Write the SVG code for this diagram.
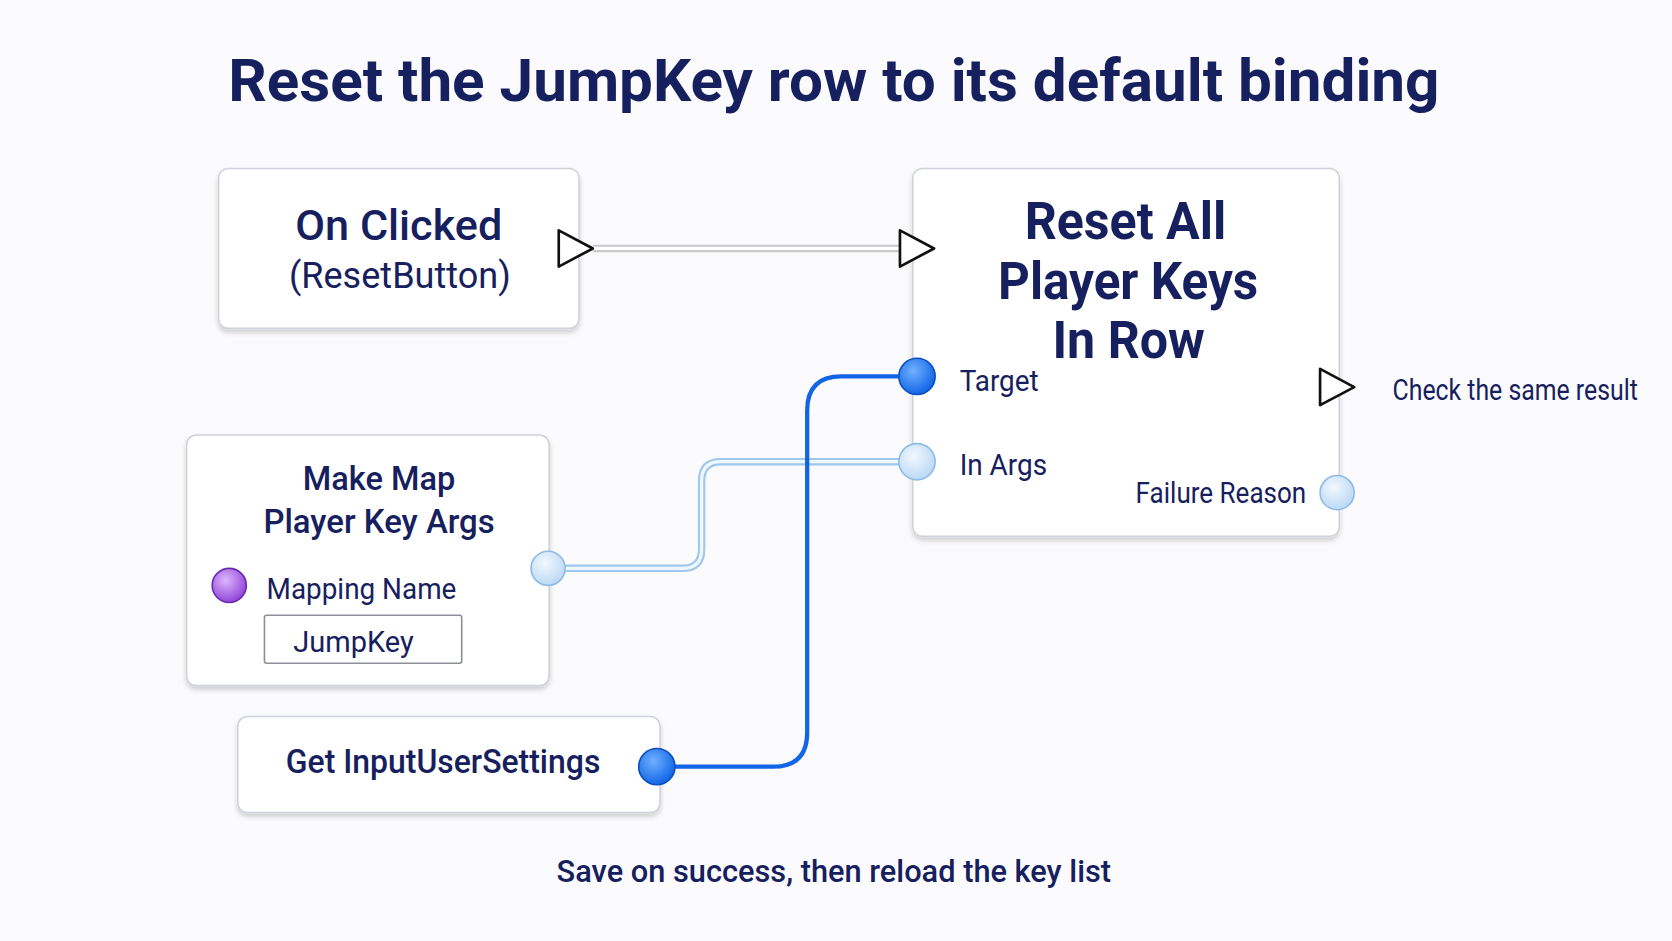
<svg xmlns="http://www.w3.org/2000/svg" width="1672" height="941" viewBox="0 0 1672 941">
<defs>
<filter id="sh" x="-10%" y="-10%" width="120%" height="130%"><feDropShadow dx="0" dy="3" stdDeviation="2.5" flood-color="#000" flood-opacity="0.18"/></filter>
<radialGradient id="gBlue" cx="40%" cy="35%" r="65%"><stop offset="0" stop-color="#6fb0ff"/><stop offset="1" stop-color="#1266e6"/></radialGradient>
<radialGradient id="gLight" cx="40%" cy="35%" r="65%"><stop offset="0" stop-color="#f2f8ff"/><stop offset="1" stop-color="#bcd9f5"/></radialGradient>
<radialGradient id="gPurple" cx="40%" cy="35%" r="65%"><stop offset="0" stop-color="#dcb6ff"/><stop offset="1" stop-color="#9246d8"/></radialGradient>
</defs>
<style>
text{font-family:Roboto,"Liberation Sans",sans-serif;fill:#17205e}
.node{fill:#fff;stroke:#cfd2d8;stroke-width:1.5;filter:url(#sh)}
.exec{fill:#fff;stroke:#111;stroke-width:2.5;stroke-linejoin:round}
.pb{fill:url(#gBlue);stroke:#0b4fc0;stroke-width:1.5}
.pl{fill:url(#gLight);stroke:#8dbbe6;stroke-width:1.5}
.t28{font-size:28px}
</style>
<rect width="1672" height="941" fill="#fbfbfd"/>
<g transform="scale(1.0663)">
<text x="214" y="95" font-size="56" font-weight="700" textLength="1136" lengthAdjust="spacingAndGlyphs">Reset the JumpKey row to its default binding</text>
<g id="connectors" fill="none">
<path d="M556 233H843" stroke="#c9c9cc" stroke-width="7"/>
<path d="M556 233H843" stroke="#fff" stroke-width="3"/>
<path d="M530 533H640Q658 533 658 515V451Q658 433 676 433H843" stroke="#9ec8ee" stroke-width="7"/>
<path d="M530 533H640Q658 533 658 515V451Q658 433 676 433H843" stroke="#eef6ff" stroke-width="3"/>
<path d="M630 719H725Q757 719 757 687V385Q757 353 789 353H843" stroke="#1266e6" stroke-width="4"/>
</g>
<g id="onclicked">
<rect class="node" x="205" y="158" width="338" height="150" rx="9"/>
<text x="277" y="225" font-size="40" font-weight="500" textLength="194" lengthAdjust="spacingAndGlyphs">On Clicked</text>
<text x="271" y="270" font-size="34" textLength="208" lengthAdjust="spacingAndGlyphs">(ResetButton)</text>
<path class="exec" d="M524 216L556 233L524 250Z"/>
</g>
<g id="reset">
<rect class="node" x="856" y="158" width="400" height="345" rx="9"/>
<text x="961" y="224" font-size="48" font-weight="700" textLength="189" lengthAdjust="spacingAndGlyphs">Reset All</text>
<text x="936" y="280" font-size="48" font-weight="700" textLength="244" lengthAdjust="spacingAndGlyphs">Player Keys</text>
<text x="987" y="336" font-size="48" font-weight="700" textLength="143" lengthAdjust="spacingAndGlyphs">In Row</text>
<path class="exec" d="M844 216L876 233L844 250Z"/>
<circle class="pb" cx="860" cy="353" r="17"/>
<text class="t28" x="900" y="367" textLength="74" lengthAdjust="spacingAndGlyphs">Target</text>
<circle class="pl" cx="860" cy="433" r="17"/>
<text class="t28" x="900" y="445" textLength="82" lengthAdjust="spacingAndGlyphs">In Args</text>
<text class="t28" x="1065" y="472" textLength="160" lengthAdjust="spacingAndGlyphs">Failure Reason</text>
<circle class="pl" cx="1254" cy="462" r="16"/>
<path class="exec" d="M1238 346L1270 363L1238 380Z"/>
</g>
<text id="check" class="t28" x="1306" y="375" textLength="230" lengthAdjust="spacingAndGlyphs">Check the same result</text>
<g id="makemap">
<rect class="node" x="175" y="408" width="340" height="235" rx="9"/>
<text x="284" y="460" font-size="32" font-weight="500" textLength="143" lengthAdjust="spacingAndGlyphs">Make Map</text>
<text x="247" y="500" font-size="32" font-weight="500" textLength="217" lengthAdjust="spacingAndGlyphs">Player Key Args</text>
<circle cx="215" cy="549" r="16" fill="url(#gPurple)" stroke="#6b2cb0" stroke-width="1.5"/>
<text class="t28" x="250" y="562" textLength="178" lengthAdjust="spacingAndGlyphs">Mapping Name</text>
<rect x="248" y="577" width="185" height="45" fill="#fff" stroke="#8c8f96" stroke-width="1.5" rx="2"/>
<text class="t28" x="275" y="611" textLength="113" lengthAdjust="spacingAndGlyphs">JumpKey</text>
<circle class="pl" cx="514" cy="533" r="16"/>
</g>
<g id="getinput">
<rect class="node" x="223" y="672" width="396" height="90" rx="9"/>
<text x="268" y="725" font-size="32" font-weight="500" textLength="295" lengthAdjust="spacingAndGlyphs">Get InputUserSettings</text>
<circle class="pb" cx="616" cy="719" r="17"/>
</g>
<text id="footer" x="522" y="827" font-size="30" font-weight="500" textLength="520" lengthAdjust="spacingAndGlyphs">Save on success, then reload the key list</text>
</g>
</svg>
